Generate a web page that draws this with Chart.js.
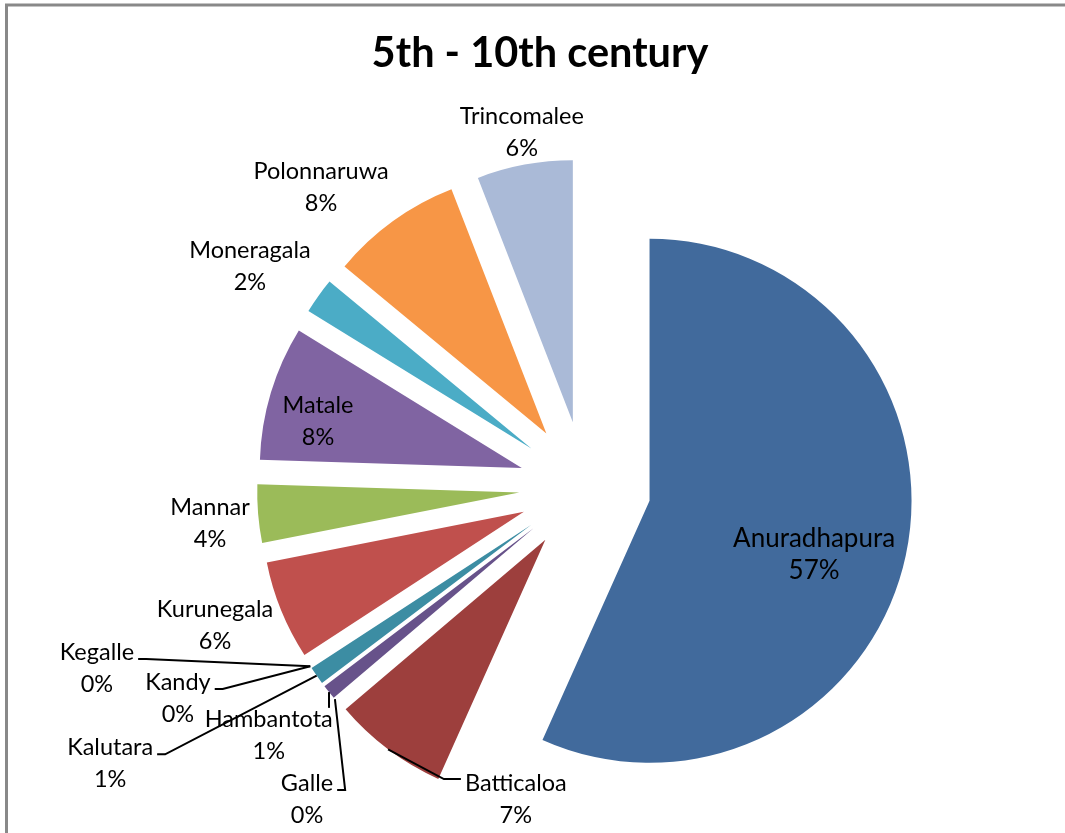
<!DOCTYPE html>
<html>
<head>
<meta charset="utf-8">
<script src="https://cdn.jsdelivr.net/npm/chart.js@4.4.1/dist/chart.umd.min.js"></script>
<style>
html,body{margin:0;padding:0;background:#fff;overflow:hidden}
#wrap{width:1065px;height:833px;position:relative}
</style>
</head>
<body>
<div id="wrap"><canvas id="c" width="1065" height="833"></canvas></div>
<script>
// ---- data ----
const TITLE = '5th - 10th century';
const categories = ['Anuradhapura','Batticaloa','Galle','Hambantota','Kalutara','Kandy','Kegalle','Kurunegala','Mannar','Matale','Moneragala','Polonnaruwa','Trincomalee'];
const shares = [56.7, 7.1, 0, 0.9, 1.1, 0, 0, 6.1, 3.6, 8.3, 2.2, 8.1, 5.9];

// ---- styles ----
const sliceColors = ['#416A9C','#9D3F3D','#7E9A45','#67528A','#3C8DA3','#DA7A2F','#4F81BD','#C0504D','#9BBB59','#8064A2','#4BACC6','#F79646','#AABAD7'];
const EXPLODE = 66;
const PIE_RADIUS = 262;
// label placement: polar position of the label block around the pie centre
// (angle clockwise from 12 o'clock, distance in pie radii), leader side, font size
const LABEL_LAYOUT = [
  {angle: 106.5, dist: 0.912, size: 26},
  {angle: 192.5, dist: 1.220, leader: 'left'},
  {angle: 221.7, dist: 1.595, leader: 'right'},
  {angle: 231.8, dist: 1.536, leader: 'top'},
  {angle: 239.8, dist: 2.097, leader: 'right'},
  {angle: 242.6, dist: 1.750, leader: 'right'},
  {angle: 249.65, dist: 1.987, leader: 'right'},
  {angle: 249.55, dist: 1.507},
  {angle: 264.5, dist: 1.438},
  {angle: 283.7, dist: 1.049},
  {angle: 303.3, dist: 1.530},
  {angle: 318.65, dist: 1.525},
  {angle: 349.9, dist: 1.376}
];
const LABEL_FONT_SIZE = 23.5;
const LABEL_FONT_FAMILY = 'Lato';
const LABEL_LINE = 32;
const TITLE_FONT = 'bold 41.5px Lato';

const frame = {
  id: 'frame',
  beforeDraw(chart) {
    const ctx = chart.ctx;
    ctx.save();
    ctx.fillStyle = '#ffffff';
    ctx.fillRect(0, 0, chart.width, chart.height);
    ctx.strokeStyle = '#898989';
    ctx.lineWidth = 3;
    ctx.strokeRect(6.5, 5, chart.width + 50, chart.height + 50);
    ctx.restore();
  },
  afterDraw(chart) {
    const ctx = chart.ctx;
    ctx.save();
    ctx.font = TITLE_FONT;
    ctx.fillStyle = '#000';
    ctx.textAlign = 'center';
    ctx.textBaseline = 'middle';
    ctx.fillText(TITLE, 540, 54);
    ctx.restore();
  }
};

const explode = {
  id: 'explode',
  beforeDatasetDraw(chart, args) {
    const ctx = chart.ctx;
    args.meta.data.forEach(arc => {
      const half = (arc.startAngle + arc.endAngle) / 2;
      ctx.save();
      ctx.translate(Math.cos(half) * EXPLODE, Math.sin(half) * EXPLODE);
      arc.draw(ctx);
      ctx.restore();
    });
    return false;
  }
};

const sliceLabels = {
  id: 'sliceLabels',
  afterDatasetsDraw(chart) {
    const meta = chart.getDatasetMeta(0);
    const ctx = chart.ctx;
    const total = shares.reduce((a, b) => a + b, 0);
    const cx = meta.data[0].x, cy = meta.data[0].y, R = meta.data[0].outerRadius;
    ctx.save();
    ctx.fillStyle = '#000';
    ctx.strokeStyle = '#000';
    ctx.lineWidth = 2;
    ctx.textAlign = 'center';
    ctx.textBaseline = 'middle';
    meta.data.forEach((arc, i) => {
      const lay = LABEL_LAYOUT[i];
      ctx.font = (lay.size || LABEL_FONT_SIZE) + 'px ' + LABEL_FONT_FAMILY;
      const pct = Math.round(shares[i] / total * 100) + '%';
      const a = lay.angle * Math.PI / 180;
      const bx = cx + Math.sin(a) * lay.dist * R;
      const by = cy - Math.cos(a) * lay.dist * R;
      const y1 = by - LABEL_LINE / 2, y2 = by + LABEL_LINE / 2;
      ctx.fillText(categories[i], bx, y1);
      ctx.fillText(pct, bx, y2);
      if (lay.leader) {
        const half = (arc.startAngle + arc.endAngle) / 2;
        const ox = cx + Math.cos(half) * (EXPLODE + R);
        const oy = cy + Math.sin(half) * (EXPLODE + R);
        const w = ctx.measureText(categories[i]).width;
        ctx.beginPath();
        if (lay.leader === 'right') {
          const ax = bx + w / 2 + 4, ay = by - 9;
          ctx.moveTo(ax, ay);
          ctx.lineTo(ax + 8, ay);
          ctx.lineTo(ox, oy);
        } else if (lay.leader === 'left') {
          const ax = bx - w / 2 - 4, ay = by - 20;
          ctx.moveTo(ax, ay);
          ctx.lineTo(ax - 17, ay);
          ctx.lineTo(ox, oy);
        } else {
          ctx.moveTo(ox, oy);
          ctx.lineTo(ox, y1 - 12);
        }
        ctx.stroke();
      }
    });
    ctx.restore();
  }
};

new Chart(document.getElementById('c'), {
  type: 'pie',
  data: {
    labels: categories,
    datasets: [{
      data: shares,
      backgroundColor: sliceColors,
      borderWidth: 0,
      radius: PIE_RADIUS
    }]
  },
  options: {
    responsive: false,
    animation: false,
    devicePixelRatio: 1,
    layout: {padding: {left: 105, right: 0, top: 141, bottom: 0}},
    plugins: {
      legend: {display: false},
      title: {display: false},
      tooltip: {enabled: false}
    }
  },
  plugins: [frame, explode, sliceLabels]
});
</script>
</body>
</html>
